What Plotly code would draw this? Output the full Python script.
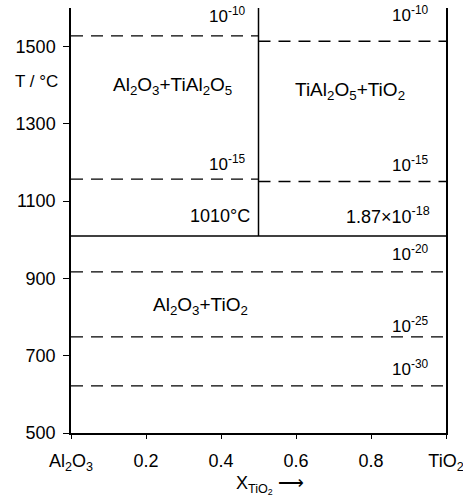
import plotly.graph_objects as go

# ---- data ----
x_ticks = [0, 0.2, 0.4, 0.6, 0.8, 1.0]
x_tick_labels = ["Al<sub>2</sub>O<sub>3</sub>", "0.2", "0.4", "0.6", "0.8", "TiO<sub>2</sub>"]
y_ticks = [500, 700, 900, 1100, 1300, 1500]
y_range = [500, 1600]

T_eutectoid = 1010          # °C, decomposition temperature of TiAl2O5
x_TiAl2O5 = 0.5             # composition of TiAl2O5
pO2_eutectoid = "1.87×10<sup>-18</sup>"

# oxygen partial pressure isobars (°C)
iso_left_T = [1528, 1157]   # Al2O3 + TiAl2O5 field
iso_left_labels = ["10<sup>-10</sup>", "10<sup>-15</sup>"]
iso_right_T = [1514, 1151]  # TiAl2O5 + TiO2 field
iso_right_labels = ["10<sup>-10</sup>", "10<sup>-15</sup>"]
iso_low_T = [917, 749, 622] # Al2O3 + TiO2 field
iso_low_labels = ["10<sup>-20</sup>", "10<sup>-25</sup>", "10<sup>-30</sup>"]

phase_labels = ["Al<sub>2</sub>O<sub>3</sub>+TiAl<sub>2</sub>O<sub>5</sub>",
                "TiAl<sub>2</sub>O<sub>5</sub>+TiO<sub>2</sub>",
                "Al<sub>2</sub>O<sub>3</sub>+TiO<sub>2</sub>"]

FONT = "Liberation Sans"
fig = go.Figure()

solid = dict(color="black", width=1.5)
dashed = dict(color="black", width=1.3, dash="12px,8px")

# solid phase boundaries
fig.add_trace(go.Scatter(x=[0, 1], y=[T_eutectoid, T_eutectoid], mode="lines",
                         line=solid, showlegend=False, hoverinfo="skip"))
fig.add_trace(go.Scatter(x=[x_TiAl2O5, x_TiAl2O5], y=[T_eutectoid, y_range[1]], mode="lines",
                         line=solid, showlegend=False, hoverinfo="skip"))

# dashed isobars
for T in iso_left_T:
    fig.add_trace(go.Scatter(x=[0, x_TiAl2O5], y=[T, T], mode="lines", line=dashed,
                             showlegend=False, hoverinfo="skip"))
for T in iso_right_T:
    fig.add_trace(go.Scatter(x=[x_TiAl2O5, 1], y=[T, T], mode="lines", line=dashed,
                             showlegend=False, hoverinfo="skip"))
for T in iso_low_T:
    fig.add_trace(go.Scatter(x=[0, 1], y=[T, T], mode="lines", line=dashed,
                             showlegend=False, hoverinfo="skip"))

ann = []
lab_font = dict(family=FONT, size=17, color="black")
eut_font = dict(family=FONT, size=18, color="black")
phase_font = dict(family=FONT, size=19, color="black")
left_shift = [21, 16]
right_shift = [27, 17]
low_shift = [19, 12, 18]
for T, lab, s in zip(iso_left_T, iso_left_labels, left_shift):
    ann.append(dict(x=0.469, y=T, text=lab, xanchor="right", yanchor="middle", yshift=s,
                    showarrow=False, font=lab_font))
for T, lab, s in zip(iso_right_T, iso_right_labels, right_shift):
    ann.append(dict(x=0.957, y=T, text=lab, xanchor="right", yanchor="middle", yshift=s,
                    showarrow=False, font=lab_font))
for T, lab, s in zip(iso_low_T, iso_low_labels, low_shift):
    ann.append(dict(x=0.957, y=T, text=lab, xanchor="right", yanchor="middle", yshift=s,
                    showarrow=False, font=lab_font))
ann.append(dict(x=0.483, y=T_eutectoid, text=f"{T_eutectoid}°C", xanchor="right",
                yanchor="middle", yshift=20, showarrow=False, font=eut_font))
ann.append(dict(x=0.963, y=T_eutectoid, text=pO2_eutectoid, xanchor="right",
                yanchor="middle", yshift=20, showarrow=False, font=eut_font))

# phase field labels
ann.append(dict(x=0.27, y=1398, text=phase_labels[0], xanchor="center", yanchor="middle",
                showarrow=False, font=phase_font))
ann.append(dict(x=0.745, y=1385, text=phase_labels[1], xanchor="center", yanchor="middle",
                showarrow=False, font=phase_font))
ann.append(dict(x=0.345, y=830, text=phase_labels[2], xanchor="center", yanchor="middle",
                showarrow=False, font=phase_font))

# axis titles
ann.append(dict(x=-0.093, xref="paper", y=1409, text="T / °C", xanchor="center",
                yanchor="middle", showarrow=False,
                font=dict(family=FONT, size=17, color="black")))
ann.append(dict(x=0.53, xref="paper", y=-0.122, yref="paper", xanchor="center",
                yanchor="middle", text="X<sub>TiO<sub>2</sub></sub> ⟶", showarrow=False,
                font=dict(family=FONT, size=18, color="black")))

fig.update_layout(
    width=463, height=501,
    margin=dict(l=71, r=17, t=8, b=68, autoexpand=False),
    plot_bgcolor="white", paper_bgcolor="white",
    font=dict(family=FONT, size=18, color="black"),
    annotations=ann,
    showlegend=False,
)
fig.update_xaxes(range=[0, 1], tickvals=x_ticks, ticktext=x_tick_labels,
                 showline=True, linecolor="black", linewidth=1.5, mirror=False,
                 ticks="outside", ticklen=4, tickcolor="black", tickwidth=1.2,
                 showgrid=False, zeroline=False, ticklabelstandoff=7,
                 ticklabeloverflow="allow", automargin=False)
fig.update_yaxes(range=y_range, tickvals=y_ticks,
                 showline=True, linecolor="black", linewidth=1.5, mirror=True,
                 ticks="outside", ticklen=6, tickcolor="black", tickwidth=1.2,
                 showgrid=False, zeroline=False, ticklabelstandoff=4, automargin=False)

# remove the default 8px page margin so the figure fills the window exactly
fig.write_html("out.html", config={"displayModeBar": False},
               post_script="document.body.style.margin='0';document.body.style.overflow='hidden';")
